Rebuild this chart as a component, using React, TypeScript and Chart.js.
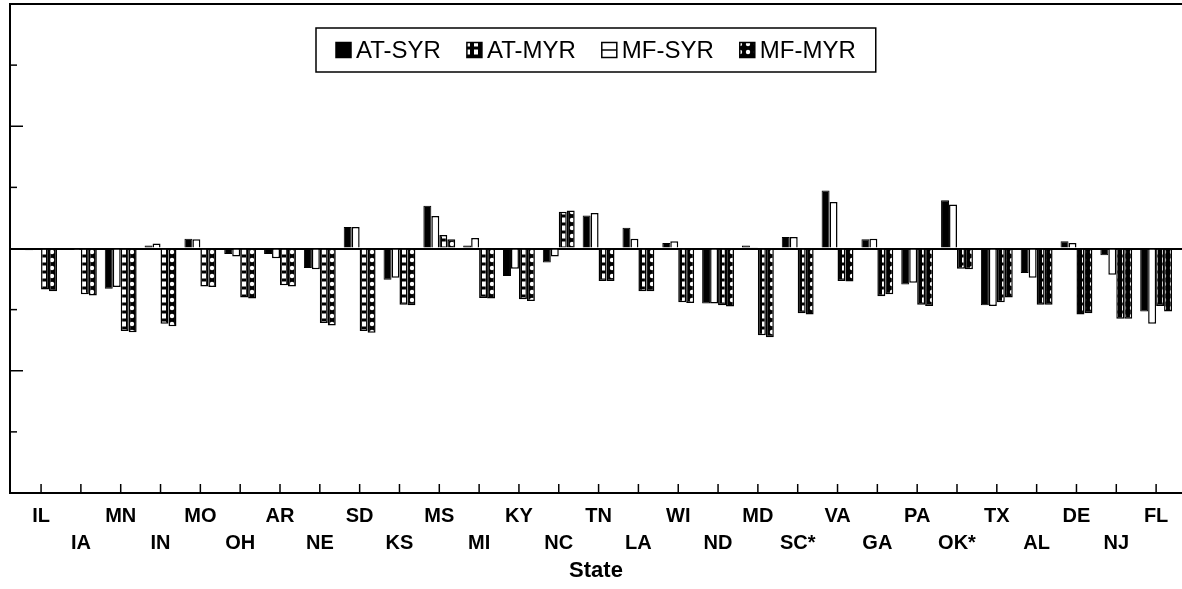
import React, { useEffect, useRef } from 'react';
import { Chart, registerables } from 'chart.js';

Chart.register(...registerables);

// States in plotting order (left to right)
const states = [
  'IL', 'IA', 'MN', 'IN', 'MO', 'OH', 'AR', 'NE', 'SD', 'KS',
  'MS', 'MI', 'KY', 'NC', 'TN', 'LA', 'WI', 'ND', 'MD', 'SC*',
  'VA', 'GA', 'PA', 'OK*', 'TX', 'AL', 'DE', 'NJ', 'FL',
];

// Series values, one per state
const atSyr = [
  -0.03, -0.02, -0.66, 0.05, 0.16, -0.09, -0.09, -0.32, 0.35, -0.51,
  0.70, 0.05, -0.45, -0.23, 0.54, 0.34, 0.09, -0.90, 0.05, 0.19,
  0.95, 0.15, -0.59, 0.79, -0.93, -0.40, 0.12, -0.11, -1.03,
];
const mfSyr = [
  -0.02, -0.01, -0.63, 0.08, 0.15, -0.13, -0.16, -0.34, 0.35, -0.48,
  0.53, 0.17, -0.33, -0.13, 0.58, 0.16, 0.12, -0.90, 0.02, 0.19,
  0.76, 0.16, -0.56, 0.72, -0.94, -0.48, 0.09, -0.43, -1.23,
];
const atMyr = [
  -0.67, -0.75, -1.35, -1.23, -0.62, -0.80, -0.60, -1.22, -1.35, -0.92,
  0.22, -0.81, -0.83, 0.60, -0.53, -0.70, -0.88, -0.93, -1.42, -1.06,
  -0.53, -0.78, -0.92, -0.33, -0.88, -0.92, -1.08, -1.15, -0.94,
];
const mfMyr = [
  -0.70, -0.77, -1.37, -1.27, -0.63, -0.82, -0.62, -1.26, -1.38, -0.93,
  0.15, -0.82, -0.86, 0.62, -0.53, -0.70, -0.89, -0.95, -1.45, -1.08,
  -0.54, -0.75, -0.94, -0.34, -0.80, -0.92, -1.06, -1.15, -1.03,
];

// Legend lists the series in this order
const legendOrder = ['AT-SYR', 'AT-MYR', 'MF-SYR', 'MF-MYR'];

const Y_MIN = -4;
const Y_MAX = 4;
const X_MIN = -0.78;
const X_MAX = 28.65;

const FONT = '"Liberation Sans", Arial, Helvetica, sans-serif';

function makePattern(kind: 'squares' | 'dots'): CanvasPattern | string {
  const c = document.createElement('canvas');
  c.width = 8;
  c.height = 8;
  const g = c.getContext('2d');
  if (!g) return '#000';
  g.fillStyle = '#000';
  g.fillRect(0, 0, 8, 8);
  g.fillStyle = '#fff';
  if (kind === 'squares') {
    g.fillRect(2, 1.5, 4, 5);
  } else {
    g.beginPath();
    g.arc(4, 4, 2.2, 0, Math.PI * 2);
    g.fill();
  }
  return g.createPattern(c, 'repeat') || '#000';
}

const toPoints = (vals: number[]) => vals.map((y, i) => ({ x: i, y }));

// Short tick marks drawn inward from the left and bottom axes
const inwardTicks = {
  id: 'inwardTicks',
  afterDatasetsDraw(chart: any) {
    const { ctx, chartArea, scales } = chart;
    ctx.save();
    ctx.strokeStyle = '#000';
    ctx.lineWidth = 1.5;
    scales.y.ticks.forEach((t: any) => {
      const v = t.value;
      if (v === Y_MIN || v === Y_MAX || v === 0) return;
      const y = scales.y.getPixelForValue(v);
      const len = Math.abs(v) % 2 === 0 ? 13 : 7;
      ctx.beginPath();
      ctx.moveTo(chartArea.left, y);
      ctx.lineTo(chartArea.left + len, y);
      ctx.stroke();
    });
    scales.x.ticks.forEach((t: any) => {
      const x = scales.x.getPixelForValue(t.value);
      ctx.beginPath();
      ctx.moveTo(x, chartArea.bottom);
      ctx.lineTo(x, chartArea.bottom - 9);
      ctx.stroke();
    });
    ctx.restore();
  },
};

// Boxed single-row legend inside the top of the plot area
const boxedLegend = {
  id: 'boxedLegend',
  afterDraw(chart: any) {
    const { ctx, chartArea } = chart;
    ctx.save();
    ctx.font = `24px ${FONT}`;
    ctx.textBaseline = 'middle';
    const sym = 15;
    const gapText = 5;
    const gapItem = 26;
    const padX = 20;
    const items = legendOrder.map((label) => {
      const ds = chart.data.datasets.find((d: any) => d.label === label);
      return { label, ds, w: ctx.measureText(label).width };
    });
    const inner =
      items.reduce((s, it) => s + sym + gapText + it.w, 0) + gapItem * (items.length - 1);
    const boxW = inner + padX * 2;
    const boxH = 44;
    const cx = (chartArea.left + chartArea.right) / 2;
    const boxL = Math.round(cx - boxW / 2);
    const boxT = chartArea.top + 24;
    ctx.fillStyle = '#fff';
    ctx.fillRect(boxL, boxT, boxW, boxH);
    ctx.strokeStyle = '#000';
    ctx.lineWidth = 1.5;
    ctx.strokeRect(boxL, boxT, boxW, boxH);
    const cy = boxT + boxH / 2;
    let x = boxL + padX;
    items.forEach((it) => {
      const top = cy - sym / 2;
      ctx.fillStyle = it.ds.backgroundColor;
      ctx.fillRect(x, top, sym, sym);
      ctx.lineWidth = 1.5;
      ctx.strokeStyle = '#000';
      ctx.strokeRect(x, top, sym, sym);
      if (it.label === 'MF-SYR') {
        ctx.beginPath();
        ctx.moveTo(x, cy);
        ctx.lineTo(x + sym, cy);
        ctx.stroke();
      }
      x += sym + gapText;
      ctx.fillStyle = '#000';
      ctx.fillText(it.label, x, cy + 1);
      x += it.w + gapItem;
    });
    ctx.restore();
  },
};

export default function App() {
  const canvasRef = useRef<HTMLCanvasElement | null>(null);

  useEffect(() => {
    document.body.style.margin = '0';
    const canvas = canvasRef.current;
    if (!canvas) return;
    const squares = makePattern('squares');
    const dots = makePattern('dots');

    const chart = new Chart(canvas, {
      type: 'bar',
      data: {
        datasets: [
          { label: 'AT-SYR', data: toPoints(atSyr), backgroundColor: '#000', borderColor: '#000', borderWidth: 1 },
          { label: 'MF-SYR', data: toPoints(mfSyr), backgroundColor: '#fff', borderColor: '#000', borderWidth: 1.5 },
          { label: 'AT-MYR', data: toPoints(atMyr), backgroundColor: squares as any, borderColor: '#000', borderWidth: 1.5 },
          { label: 'MF-MYR', data: toPoints(mfMyr), backgroundColor: dots as any, borderColor: '#000', borderWidth: 1.5 },
        ],
      },
      options: {
        animation: false,
        responsive: true,
        maintainAspectRatio: false,
        layout: { padding: { left: 10, top: 4, right: 0, bottom: 0 } },
        datasets: { bar: { categoryPercentage: 0.8, barPercentage: 1 } },
        plugins: { legend: { display: false }, tooltip: { enabled: false } },
        scales: {
          x: {
            type: 'linear',
            offset: false,
            min: X_MIN,
            max: X_MAX,
            afterBuildTicks: (scale: any) => {
              scale.ticks = states.map((_, i) => ({ value: i }));
            },
            afterFit: (scale: any) => {
              scale.height = 96;
            },
            grid: { display: false, drawTicks: false, offset: false },
            border: { display: true, color: '#000', width: 2 },
            ticks: {
              autoSkip: false,
              maxRotation: 0,
              padding: 10,
              color: '#000',
              font: { family: FONT, size: 20, weight: 'bold', lineHeight: '27px' },
              callback: (value: any) => {
                const i = Math.round(Number(value));
                const name = states[i] ?? '';
                return i % 2 === 0 ? [name, ''] : ['', name];
              },
            },
            title: {
              display: true,
              text: 'State',
              color: '#000',
              font: { family: FONT, size: 22, weight: 'bold' },
              padding: { top: 0, bottom: 5 },
            },
          },
          y: {
            min: Y_MIN,
            max: Y_MAX,
            ticks: { display: false, stepSize: 1 },
            grid: {
              drawTicks: false,
              lineWidth: 2,
              color: (ctx: any) =>
                ctx.tick && (ctx.tick.value === 0 || ctx.tick.value === Y_MAX) ? '#000' : 'rgba(0,0,0,0)',
            },
            border: { display: true, color: '#000', width: 2 },
          },
        },
      } as any,
      plugins: [inwardTicks, boxedLegend],
    });

    return () => chart.destroy();
  }, []);

  return (
    <div style={{ position: 'relative', width: 1182, height: 589 }}>
      <canvas ref={canvasRef} />
    </div>
  );
}
